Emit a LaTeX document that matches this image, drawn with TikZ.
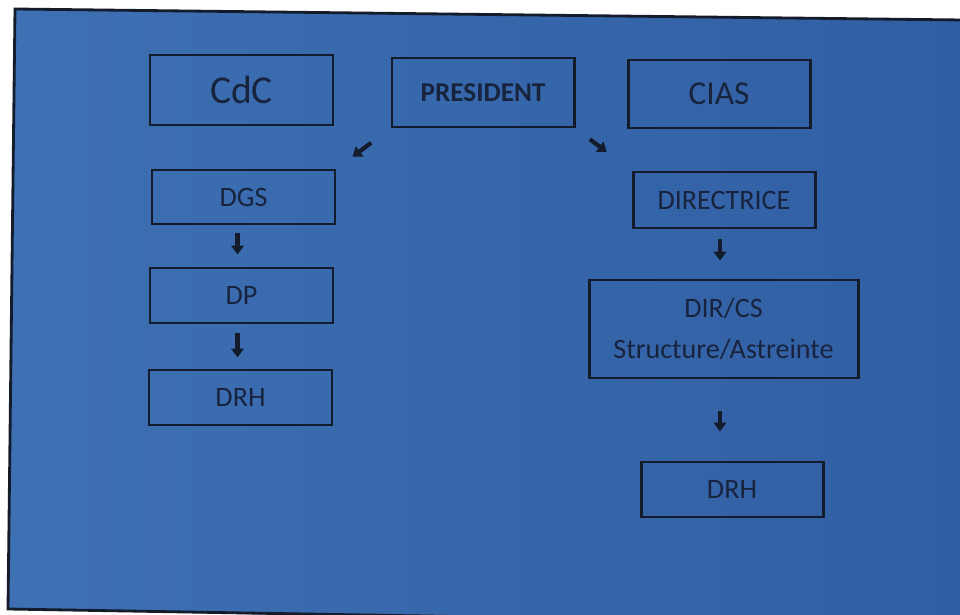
\documentclass[tikz,border=0pt]{standalone}
\usepackage{fontspec}
\setmainfont{Carlito}
\usetikzlibrary{arrows.meta}
\definecolor{slideL}{RGB}{62,112,180}
\definecolor{slideR}{RGB}{48,94,162}
\definecolor{ink}{RGB}{24,36,62}
\definecolor{edge}{RGB}{20,28,44}
\tikzset{
  box/.style={draw=edge, line width=1.7pt, inner sep=0pt, text=ink, font=\fontsize{16}{21}\selectfont, align=center},
  arr/.style={draw=edge, line width=2.4pt, -{Triangle[length=5pt,width=7pt]}},
}
\begin{document}
\begin{tikzpicture}[x=0.02cm,y=-0.02cm]
\useasboundingbox (0,0) rectangle (960,615);
\fill[white] (0,0) rectangle (960,615);
\begin{scope}
\clip (0,0) rectangle (960,615);
\shade[left color=slideL, right color=slideR] (15,9) -- (962,20) -- (962,630) -- (8,609) -- cycle;
\draw[edge, line width=1.6pt] (962,20) -- (15,9) -- (8,609) -- (962,625);
\end{scope}
% top row
\node[box, minimum width=183*0.02cm, minimum height=70*0.02cm, font=\fontsize{22.5}{26}\selectfont] (cdc) at (241.5,90) {CdC};
\node[box, minimum width=182*0.02cm, minimum height=69*0.02cm, font=\bfseries\fontsize{15.5}{20}\selectfont] (pres) at (483,92.5) {PRESIDENT};
\node[box, minimum width=182*0.02cm, minimum height=68*0.02cm, font=\fontsize{19}{23}\selectfont] (cias) at (719,94) {CIAS};
% left column
\node[box, minimum width=183*0.02cm, minimum height=54*0.02cm] (dgs) at (243.5,197) {DGS};
\node[box, minimum width=183*0.02cm, minimum height=55*0.02cm] (dp) at (241.5,295.5) {DP};
\node[box, minimum width=183*0.02cm, minimum height=55*0.02cm] (drhl) at (240.5,397.5) {DRH};
% right column
\node[box, minimum width=182*0.02cm, minimum height=56*0.02cm] (dir) at (724,200) {DIRECTRICE};
\node[box, minimum width=269*0.02cm, minimum height=98*0.02cm] (dircs) at (723.5,329) {DIR/CS\\[2pt]Structure/Astreinte};
\node[box, minimum width=182*0.02cm, minimum height=55*0.02cm] (drhr) at (732,489.5) {DRH};
% arrows
\draw[arr, shorten <=24*0.02cm, shorten >=20*0.02cm] (pres.south west) -- (dgs.north east);
\draw[arr, shorten <=18*0.02cm, shorten >=31*0.02cm] (pres.south east) -- (dir.north west);
\draw[arr, shorten <=8*0.02cm, shorten >=12*0.02cm] ([xshift=-6*0.02cm]dgs.south) -- ([xshift=-4*0.02cm]dp.north);
\draw[arr, shorten <=9*0.02cm, shorten >=11*0.02cm] ([xshift=-4*0.02cm]dp.south) -- ([xshift=-3*0.02cm]drhl.north);
\draw[arr, shorten <=10*0.02cm, shorten >=18*0.02cm] ([xshift=-4*0.02cm]dir.south) -- ([xshift=-3.5*0.02cm]dircs.north);
\draw[arr, shorten <=32*0.02cm, shorten >=29*0.02cm] ([xshift=-3.5*0.02cm]dircs.south) -- ([xshift=-12*0.02cm]drhr.north);
\end{tikzpicture}
\end{document}
